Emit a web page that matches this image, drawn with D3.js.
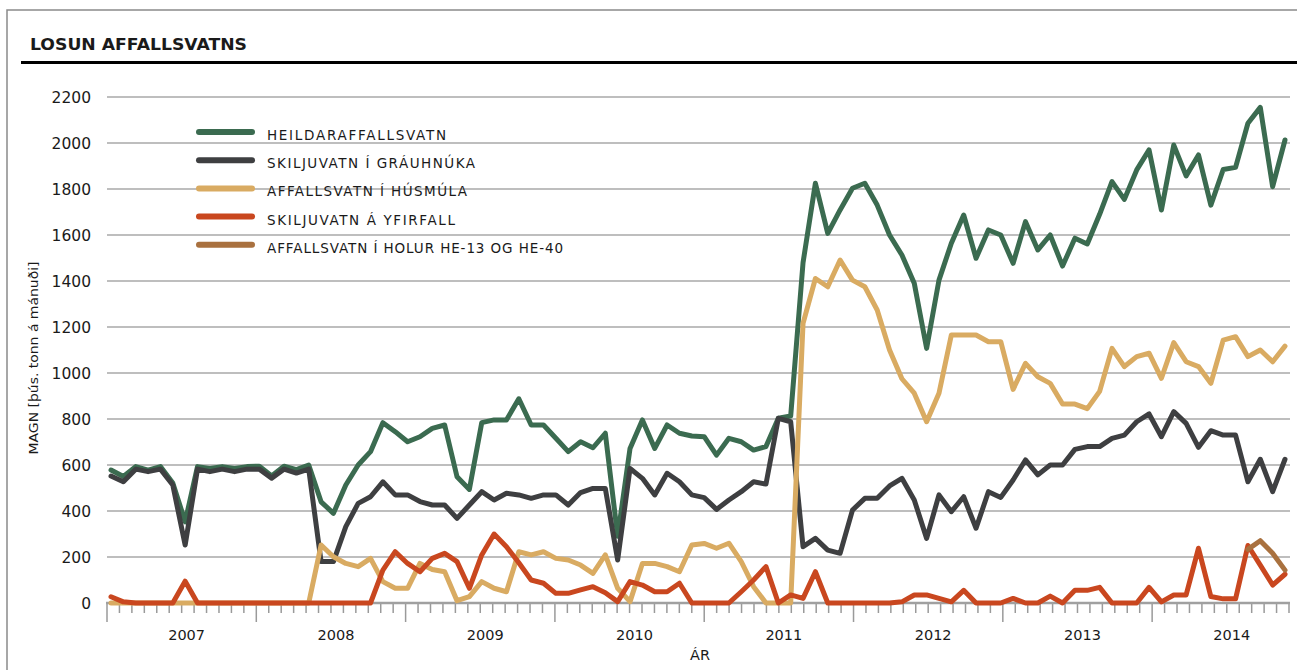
<!DOCTYPE html>
<html lang="is">
<head>
<meta charset="UTF-8">
<title>Losun affallsvatns</title>
<style>
  html, body { margin: 0; padding: 0; background: #fff; overflow: hidden; }
  svg text { font-family: "DejaVu Sans", sans-serif; fill: #1a1a1a; }
</style>
</head>
<body>
<script src="https://d3js.org/d3.v7.min.js"></script>
<script>
// categories: one point per month
var years = [2007, 2008, 2009, 2010, 2011, 2012, 2013, 2014];
var months = [];
years.forEach(function (y) { for (var m = 1; m <= 12; m++) months.push(y + '-' + m); });

var yTicks = [0, 200, 400, 600, 800, 1000, 1200, 1400, 1600, 1800, 2000, 2200];

// þús. tonn á mánuði
var heild = [578, 550, 593, 578, 593, 522, 353, 593, 585, 593, 585, 593,
  595, 552, 595, 580, 600, 440, 390, 513, 600, 658, 784, 745,
  701, 723, 759, 774, 549, 494, 784, 796, 796, 888, 774, 774,
  716, 658, 701, 675, 738, 290, 672, 796, 672, 774, 738, 726,
  723, 643, 716, 701, 665, 680, 803, 813, 1480, 1825, 1607, 1709,
  1803, 1825, 1730, 1600, 1513, 1390, 1107, 1404, 1564, 1687, 1499, 1622,
  1600, 1477, 1658, 1535, 1600, 1465, 1586, 1561, 1690, 1832, 1755, 1883,
  1970, 1709, 1991, 1857, 1948, 1730, 1885, 1894, 2086, 2155, 1810, 2013];

var graauhnukar = [552, 527, 582, 571, 582, 513, 252, 582, 571, 582, 571, 582,
  582, 543, 582, 565, 582, 180, 180, 332, 433, 462, 527, 470,
  470, 441, 426, 426, 368, 426, 484, 448, 477, 470, 455, 470,
  470, 426, 480, 498, 498, 187, 585, 542, 470, 564, 527, 470,
  458, 407, 448, 484, 527, 517, 803, 788, 245, 281, 230, 216,
  404, 455, 455, 509, 542, 448, 281, 470, 397, 462, 325, 484,
  459, 535, 622, 557, 600, 600, 668, 680, 680, 716, 730, 788,
  822, 723, 832, 781, 677, 749, 730, 730, 527, 625, 484, 625];

var husmuli = [0, 0, 0, 0, 0, 0, 0, 0, 0, 0, 0, 0,
  0, 0, 0, 0, 0, 252, 201, 172, 158, 194, 93, 64,
  64, 172, 146, 136, 10, 28, 93, 64, 49, 223, 209, 223,
  194, 187, 165, 129, 209, 64, 6, 172, 172, 158, 136, 252,
  259, 238, 260, 180, 71, 0, 0, 0, 1216, 1411, 1375, 1491,
  1404, 1375, 1274, 1100, 975, 912, 788, 912, 1165, 1165, 1165, 1136,
  1136, 929, 1042, 984, 955, 865, 865, 845, 920, 1107, 1028, 1071,
  1086, 977, 1132, 1049, 1028, 955, 1143, 1158, 1071, 1100, 1049, 1117];

var yfirfall = [27, 5, 0, 0, 0, 0, 95, 0, 0, 0, 0, 0,
  0, 0, 0, 0, 0, 0, 0, 0, 0, 0, 143, 223,
  172, 136, 194, 216, 180, 64, 209, 300, 245, 175, 100, 86,
  42, 42, 57, 71, 45, 6, 93, 78, 49, 49, 86, 0,
  0, 0, 0, 49, 100, 158, 0, 35, 20, 136, 0, 0,
  0, 0, 0, 0, 5, 35, 35, 20, 5, 55, 0, 0,
  0, 20, 0, 0, 30, 0, 55, 55, 68, 0, 0, 0,
  68, 5, 35, 35, 238, 28, 18, 18, 250, 165, 78, 125];

var holur = [null, null, null, null, null, null, null, null, null, null, null, null,
  null, null, null, null, null, null, null, null, null, null, null, null,
  null, null, null, null, null, null, null, null, null, null, null, null,
  null, null, null, null, null, null, null, null, null, null, null, null,
  null, null, null, null, null, null, null, null, null, null, null, null,
  null, null, null, null, null, null, null, null, null, null, null, null,
  null, null, null, null, null, null, null, null, null, null, null, null,
  null, null, null, null, null, null, null, null, 233, 271, 216, 143];

var seriesNames = ['HEILDARAFFALLSVATN', 'SKILJUVATN Í GRÁUHNÚKA', 'AFFALLSVATN Í HÚSMÚLA',
  'SKILJUVATN Á YFIRFALL', 'AFFALLSVATN Í HOLUR HE-13 OG HE-40'];
var seriesColors = ['#3b6b50', '#3e3f41', '#d9ab62', '#c9471f', '#a9713f'];
var seriesValues = [heild, graauhnukar, husmuli, yfirfall, holur];

var W = 1297, H = 670;
var svg = d3.select('body').append('svg').attr('width', W).attr('height', H);

// frame + title
svg.append('rect').attr('x', 7).attr('y', 10).attr('width', W).attr('height', H)
  .attr('fill', 'none').attr('stroke', '#8a8a8a').attr('stroke-width', 1.5);
svg.append('text').attr('x', 30).attr('y', 50).text('LOSUN AFFALLSVATNS')
  .attr('font-size', 15).attr('font-weight', 'bold')
  .attr('textLength', 217).attr('lengthAdjust', 'spacingAndGlyphs');
svg.append('line').attr('x1', 21).attr('x2', W).attr('y1', 62.5).attr('y2', 62.5)
  .attr('stroke', '#000').attr('stroke-width', 3);

var y = d3.scaleLinear().domain([0, 2200]).range([603, 97]);
var xTick = d3.scaleLinear().domain([0, 95]).range([107, 1289]);
var x = d3.scalePoint().domain(months).range([111, 1285]);

// gridlines + y labels
var grid = svg.append('g');
grid.selectAll('line').data(yTicks.filter(function (d) { return d > 0; })).enter().append('line')
  .attr('x1', 107).attr('x2', 1290)
  .attr('y1', function (d) { return y(d); }).attr('y2', function (d) { return y(d); })
  .attr('stroke', '#a9a9a9').attr('stroke-width', 1.3);
grid.selectAll('text').data(yTicks).enter().append('text')
  .attr('x', 91).attr('y', function (d) { return y(d); }).attr('dy', '0.36em')
  .attr('text-anchor', 'end').attr('font-size', 15.5).text(function (d) { return d; });

// x axis: month ticks, longer at year starts
var ax = svg.append('g');
ax.selectAll('line.tk').data(d3.range(0, 96)).enter().append('line')
  .attr('x1', function (d) { return xTick(d); }).attr('x2', function (d) { return xTick(d); })
  .attr('y1', 603).attr('y2', function (d) { return d % 12 === 0 ? 622 : 613; })
  .attr('stroke', '#9a9a9a').attr('stroke-width', 1.5);
ax.append('line').attr('x1', 106).attr('x2', 1290).attr('y1', 603).attr('y2', 603)
  .attr('stroke', '#a0a0a0').attr('stroke-width', 2.5);
ax.selectAll('text').data(years).enter().append('text')
  .attr('x', function (d, i) { return xTick(i * 12 + 6.4); }).attr('y', 640)
  .attr('text-anchor', 'middle').attr('font-size', 14.5).text(function (d) { return d; });
svg.append('text').attr('x', 700).attr('y', 660).attr('text-anchor', 'middle')
  .attr('font-size', 14.5).text('ÁR');
svg.append('text').attr('transform', 'translate(38,358) rotate(-90)')
  .attr('text-anchor', 'middle').attr('font-size', 13)
  .attr('textLength', 193).attr('lengthAdjust', 'spacingAndGlyphs')
  .text('MAGN [þús. tonn á mánuði]');

// lines
var line = d3.line()
  .defined(function (d) { return d != null; })
  .x(function (d, i) { return x(months[i]); })
  .y(function (d) { return y(d); });

svg.append('g').selectAll('path').data(seriesValues).enter().append('path')
  .attr('d', line)
  .attr('fill', 'none')
  .attr('stroke', function (d, i) { return seriesColors[i]; })
  .attr('stroke-width', 5)
  .attr('stroke-linejoin', 'round')
  .attr('stroke-linecap', 'round');

// legend
var legWidths = [179, 208, 200, 188, 296];
var leg = svg.append('g').selectAll('g').data(seriesNames).enter().append('g')
  .attr('transform', function (d, i) { return 'translate(0,' + (132 + i * 28.2) + ')'; });
leg.append('line').attr('x1', 199).attr('x2', 252).attr('y1', 0).attr('y2', 0)
  .attr('stroke', function (d, i) { return seriesColors[i]; })
  .attr('stroke-width', 6).attr('stroke-linecap', 'round');
leg.append('text').attr('x', 267).attr('y', 8).attr('font-size', 13.5)
  .attr('textLength', function (d, i) { return legWidths[i]; })
  .attr('lengthAdjust', 'spacing')
  .text(function (d) { return d; });
</script>
</body>
</html>
